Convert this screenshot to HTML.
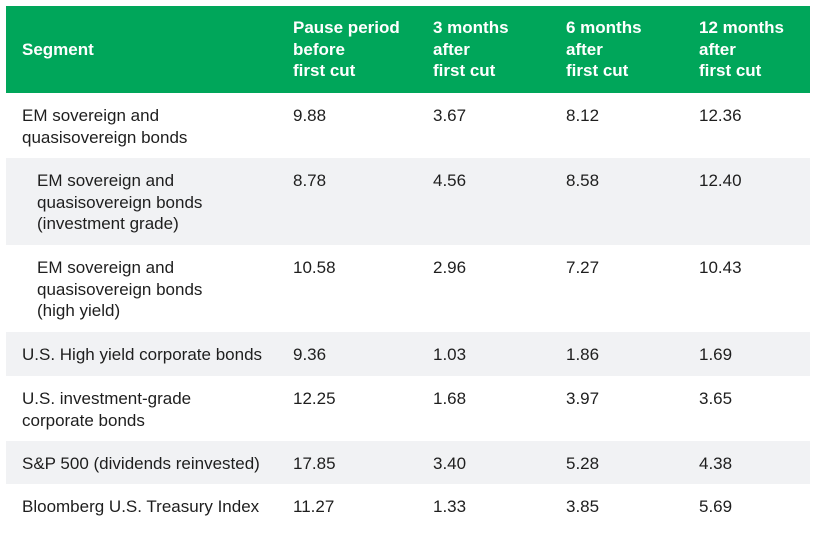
<!DOCTYPE html>
<html><head><meta charset="utf-8"><style>
html,body{margin:0;padding:0;background:#fff;}
body{width:814px;height:540px;position:relative;overflow:hidden;font-family:"Liberation Sans",Arial,sans-serif;}
.bg{position:absolute;left:6px;width:804px;}
.hd{background:#00a65a;top:6px;height:87px;}
.g{background:#f1f2f4;}
.t{position:absolute;font-size:17px;line-height:21.7px;color:#1e1e1e;white-space:nowrap;}
.h{color:#fff;font-weight:bold;font-size:17px;}
</style></head><body>
<div class="bg hd"></div>
<div class="bg g" style="top:158px;height:87px;"></div>
<div class="bg g" style="top:332px;height:44px;"></div>
<div class="bg g" style="top:441px;height:43px;"></div>

<div class="t h" style="left:22px;top:39px;">Segment</div>
<div class="t h" style="left:293px;top:17px;">Pause period<br>before<br>first cut</div>
<div class="t h" style="left:433px;top:17px;">3 months<br>after<br>first cut</div>
<div class="t h" style="left:566px;top:17px;">6 months<br>after<br>first cut</div>
<div class="t h" style="left:699px;top:17px;">12 months<br>after<br>first cut</div>

<div class="t" style="left:22px;top:105px;">EM sovereign and<br>quasisovereign bonds</div>
<div class="t" style="left:293px;top:105px;">9.88</div>
<div class="t" style="left:433px;top:105px;">3.67</div>
<div class="t" style="left:566px;top:105px;">8.12</div>
<div class="t" style="left:699px;top:105px;">12.36</div>

<div class="t" style="left:37px;top:170px;">EM sovereign and<br>quasisovereign bonds<br>(investment grade)</div>
<div class="t" style="left:293px;top:170px;">8.78</div>
<div class="t" style="left:433px;top:170px;">4.56</div>
<div class="t" style="left:566px;top:170px;">8.58</div>
<div class="t" style="left:699px;top:170px;">12.40</div>

<div class="t" style="left:37px;top:257px;">EM sovereign and<br>quasisovereign bonds<br>(high yield)</div>
<div class="t" style="left:293px;top:257px;">10.58</div>
<div class="t" style="left:433px;top:257px;">2.96</div>
<div class="t" style="left:566px;top:257px;">7.27</div>
<div class="t" style="left:699px;top:257px;">10.43</div>

<div class="t" style="left:22px;top:344px;">U.S. High yield corporate bonds</div>
<div class="t" style="left:293px;top:344px;">9.36</div>
<div class="t" style="left:433px;top:344px;">1.03</div>
<div class="t" style="left:566px;top:344px;">1.86</div>
<div class="t" style="left:699px;top:344px;">1.69</div>

<div class="t" style="left:22px;top:388px;">U.S. investment-grade<br>corporate bonds</div>
<div class="t" style="left:293px;top:388px;">12.25</div>
<div class="t" style="left:433px;top:388px;">1.68</div>
<div class="t" style="left:566px;top:388px;">3.97</div>
<div class="t" style="left:699px;top:388px;">3.65</div>

<div class="t" style="left:22px;top:453px;">S&amp;P 500 (dividends reinvested)</div>
<div class="t" style="left:293px;top:453px;">17.85</div>
<div class="t" style="left:433px;top:453px;">3.40</div>
<div class="t" style="left:566px;top:453px;">5.28</div>
<div class="t" style="left:699px;top:453px;">4.38</div>

<div class="t" style="left:22px;top:496px;">Bloomberg U.S. Treasury Index</div>
<div class="t" style="left:293px;top:496px;">11.27</div>
<div class="t" style="left:433px;top:496px;">1.33</div>
<div class="t" style="left:566px;top:496px;">3.85</div>
<div class="t" style="left:699px;top:496px;">5.69</div>
</body></html>
